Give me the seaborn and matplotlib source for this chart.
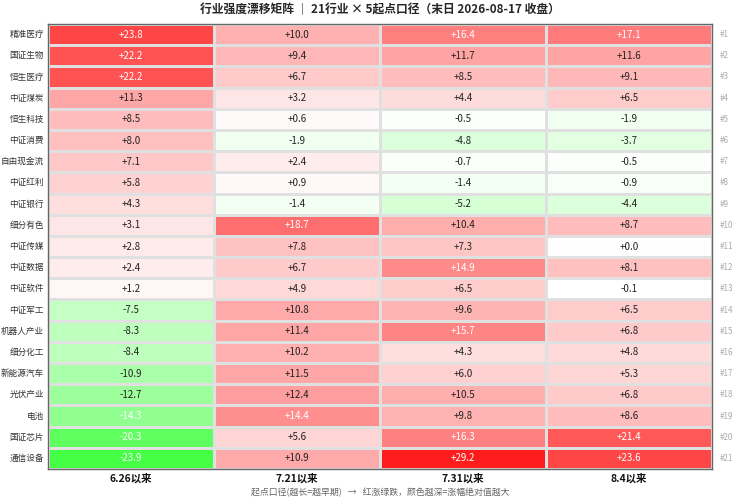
import numpy as np
import pandas as pd
import matplotlib as mpl
mpl.use("Agg")
import matplotlib.pyplot as plt
import seaborn as sns
from matplotlib.colors import LinearSegmentedColormap

industries = ["精准医疗", "国证生物", "恒生医疗", "中证煤炭", "恒生科技", "中证消费", "自由现金流",
              "中证红利", "中证银行", "细分有色", "中证传媒", "中证数据", "中证软件", "中证军工",
              "机器人产业", "细分化工", "新能源汽车", "光伏产业", "电池", "国证芯片", "通信设备"]
periods = ["6.26以来", "7.21以来", "7.31以来", "8.4以来"]

since_0626 = [23.8, 22.2, 22.2, 11.3, 8.5, 8.0, 7.1, 5.8, 4.3, 3.1, 2.8, 2.4, 1.2, -7.5,
              -8.3, -8.4, -10.9, -12.7, -14.3, -20.3, -23.9]
since_0721 = [10.0, 9.4, 6.7, 3.2, 0.6, -1.9, 2.4, 0.9, -1.4, 18.7, 7.8, 6.7, 4.9, 10.8,
              11.4, 10.2, 11.5, 12.4, 14.4, 5.6, 10.9]
since_0731 = [16.4, 11.7, 8.5, 4.4, -0.5, -4.8, -0.7, -1.4, -5.2, 10.4, 7.3, 14.9, 6.5, 9.6,
              15.7, 4.3, 6.0, 10.5, 9.8, 16.3, 29.2]
since_0804 = [17.1, 11.6, 9.1, 6.5, -1.9, -3.7, -0.5, -0.9, -4.4, 8.7, 0.0, 8.1, -0.1, 6.5,
              6.8, 4.8, 5.3, 6.8, 8.6, 21.4, 23.6]

df = pd.DataFrame({periods[0]: since_0626, periods[1]: since_0721,
                   periods[2]: since_0731, periods[3]: since_0804}, index=industries)

sns.set_theme(style="white")
plt.rcParams["font.family"] = ["Noto Sans CJK SC", "DejaVu Sans"]
plt.rcParams["axes.unicode_minus"] = False

cmap = LinearSegmentedColormap.from_list("rg", ["#00ff00", "#ffffff", "#ff0000"])
labels = df.map(lambda v: f"{v:+.1f}")

fig = plt.figure(figsize=(7.36, 5), dpi=100)
ax = fig.add_axes([48 / 736, 1 - 469 / 500, 664 / 736, 445 / 500])
sns.heatmap(df, ax=ax, cmap=cmap, vmin=-32.8, vmax=32.8, cbar=False,
            annot=labels, fmt="", annot_kws={"fontsize": 7},
            linewidths=1, linecolor="#e0e0e0")

for t, v in zip(ax.texts, df.values.flatten()):
    t.set_color("white" if abs(v) > 14 else "#222222")

for i in range(len(industries)):
    ax.text(len(periods) + 0.045, i + 0.5, f"#{i + 1}", ha="left", va="center",
            fontsize=5.8, color="#aaaaaa")

for s in ax.spines.values():
    s.set_visible(True)
    s.set_color("#666666")
    s.set_linewidth(1)

ax.tick_params(axis="both", length=0, pad=3)
ax.set_yticklabels(industries, rotation=0, fontsize=6.2, color="#333333")
ax.set_xticklabels(periods, fontsize=7.5, fontweight="bold", color="#111111")
ax.set_ylabel("")
ax.set_xlabel("起点口径(越长=越早期)   →   红涨绿跌，颜色越深=涨幅绝对值越大",
              fontsize=6.4, color="#666666", labelpad=3)
ax.set_title("行业强度漂移矩阵 ｜ 21行业 × 5起点口径（末日 2026-08-17 收盘）",
             fontsize=8.5, fontweight="bold", pad=8)

fig.savefig("out.png", dpi=100)
